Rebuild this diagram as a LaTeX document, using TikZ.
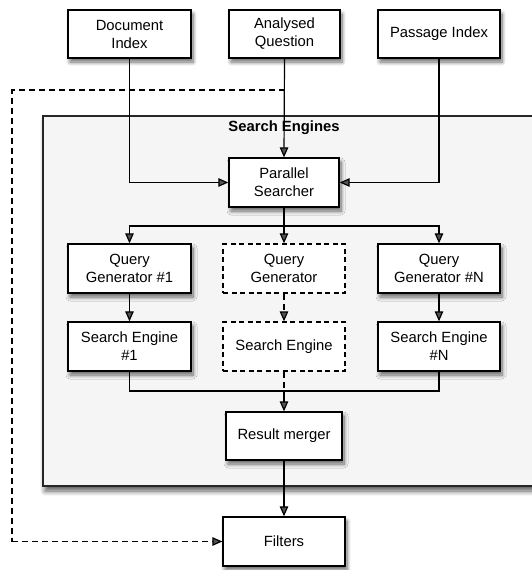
\documentclass[tikz,border=0pt]{standalone}
\usepackage{fontspec}
\setmainfont{Liberation Sans}
\usetikzlibrary{arrows.meta,shadows.blur}
\begin{document}
\begin{tikzpicture}[x=1pt,y=-1pt,
  box/.style={draw=black,line width=1.3pt,fill=white,align=center,inner sep=0pt,
    minimum height=48pt,
    blur shadow={shadow xshift=2pt,shadow yshift=-4pt,shadow blur radius=4pt,shadow blur steps=8,shadow opacity=60},
    font=\fontsize{14.8}{18}\selectfont},
  dbox/.style={draw=black,line width=1.3pt,fill=white,align=center,inner sep=0pt,
    minimum height=48pt,dash pattern=on 5pt off 3.5pt,
    font=\fontsize{14.8}{18}\selectfont},
  conn/.style={line width=1.2pt,-{Triangle[length=10pt,width=8.5pt]}},
  plain/.style={line width=1.2pt},
  dconn/.style={line width=1.2pt,dash pattern=on 6pt off 4pt,-{Triangle[length=10pt,width=8.5pt]}},
  dplain/.style={line width=1.2pt,dash pattern=on 6pt off 4pt}
]
\useasboundingbox (0,0) rectangle (532,570);
% container
\path[fill=black!4,draw=black!85,line width=1.6pt,
  blur shadow={shadow xshift=2pt,shadow yshift=-5pt,shadow blur radius=5pt,shadow blur steps=8,shadow opacity=65}]
  (43,116) rectangle (545,486);
\node[font=\fontsize{14.8}{18}\selectfont\bfseries] (title) at (284,128) {Search Engines};

% nodes
\node[box,minimum width=123pt] (di) at (129.5,34) {Document\\Index};
\node[box,minimum width=111pt] (aq) at (284.5,34) {Analysed\\Question};
\node[box,minimum width=122pt] (pi) at (439,34) {Passage Index};
\node[box,minimum width=110pt,minimum height=49pt] (ps) at (284,182.5) {Parallel\\Searcher};
\node[box,minimum width=123pt,minimum height=49pt] (qg1) at (129.5,268.5) {Query\\Generator \#1};
\node[dbox,minimum width=122pt,minimum height=49pt] (qg) at (284,268.5) {Query\\Generator};
\node[box,minimum width=122pt,minimum height=49pt] (qgn) at (439,268.5) {Query\\Generator \#N};
\node[box,minimum width=123pt,minimum height=49pt] (se1) at (129.5,346.5) {Search Engine\\\#1};
\node[dbox,minimum width=122pt,minimum height=49pt] (se) at (284,346.5) {Search Engine};
\node[box,minimum width=122pt,minimum height=49pt] (sen) at (439,346.5) {Search Engine\\\#N};
\node[box,minimum width=116pt] (rm) at (284,436) {Result merger};
\node[box,minimum width=122pt,minimum height=49pt] (fi) at (284,541.5) {Filters};

\coordinate (dj) at (aq.south |- 0,90);
\coordinate (dl) at (12,90);
\coordinate (dd) at (12,541.5);
\coordinate (sp) at (ps.south |- 0,226);
\coordinate (mj) at (rm.north |- 0,391);

% connectors
\draw[conn] (di.south) |- (ps.west);
\draw[conn] (pi.south) |- (ps.east);
\draw[conn] (aq.south) -- (ps.north);
\draw[dplain] (dj) -- (dl) -- (dd);
\draw[dconn] (dd) -- (fi.west);
\draw[plain] (ps.south) -- (sp);
\draw[conn] (sp) -| (qg1.north);
\draw[conn] (sp) -| (qgn.north);
\draw[conn] (sp) -- (qg.north);
\draw[conn] (qg1.south) -- (se1.north);
\draw[conn] (qgn.south) -- (sen.north);
\draw[dconn] (qg.south) -- (se.north);
\draw[plain] (se1.south) |- (mj);
\draw[plain] (sen.south) |- (mj);
\draw[dplain] (se.south) -- (mj);
\draw[conn] (mj) -- (rm.north);
\draw[conn] (rm.south) -- (fi.north);
\end{tikzpicture}
\end{document}
